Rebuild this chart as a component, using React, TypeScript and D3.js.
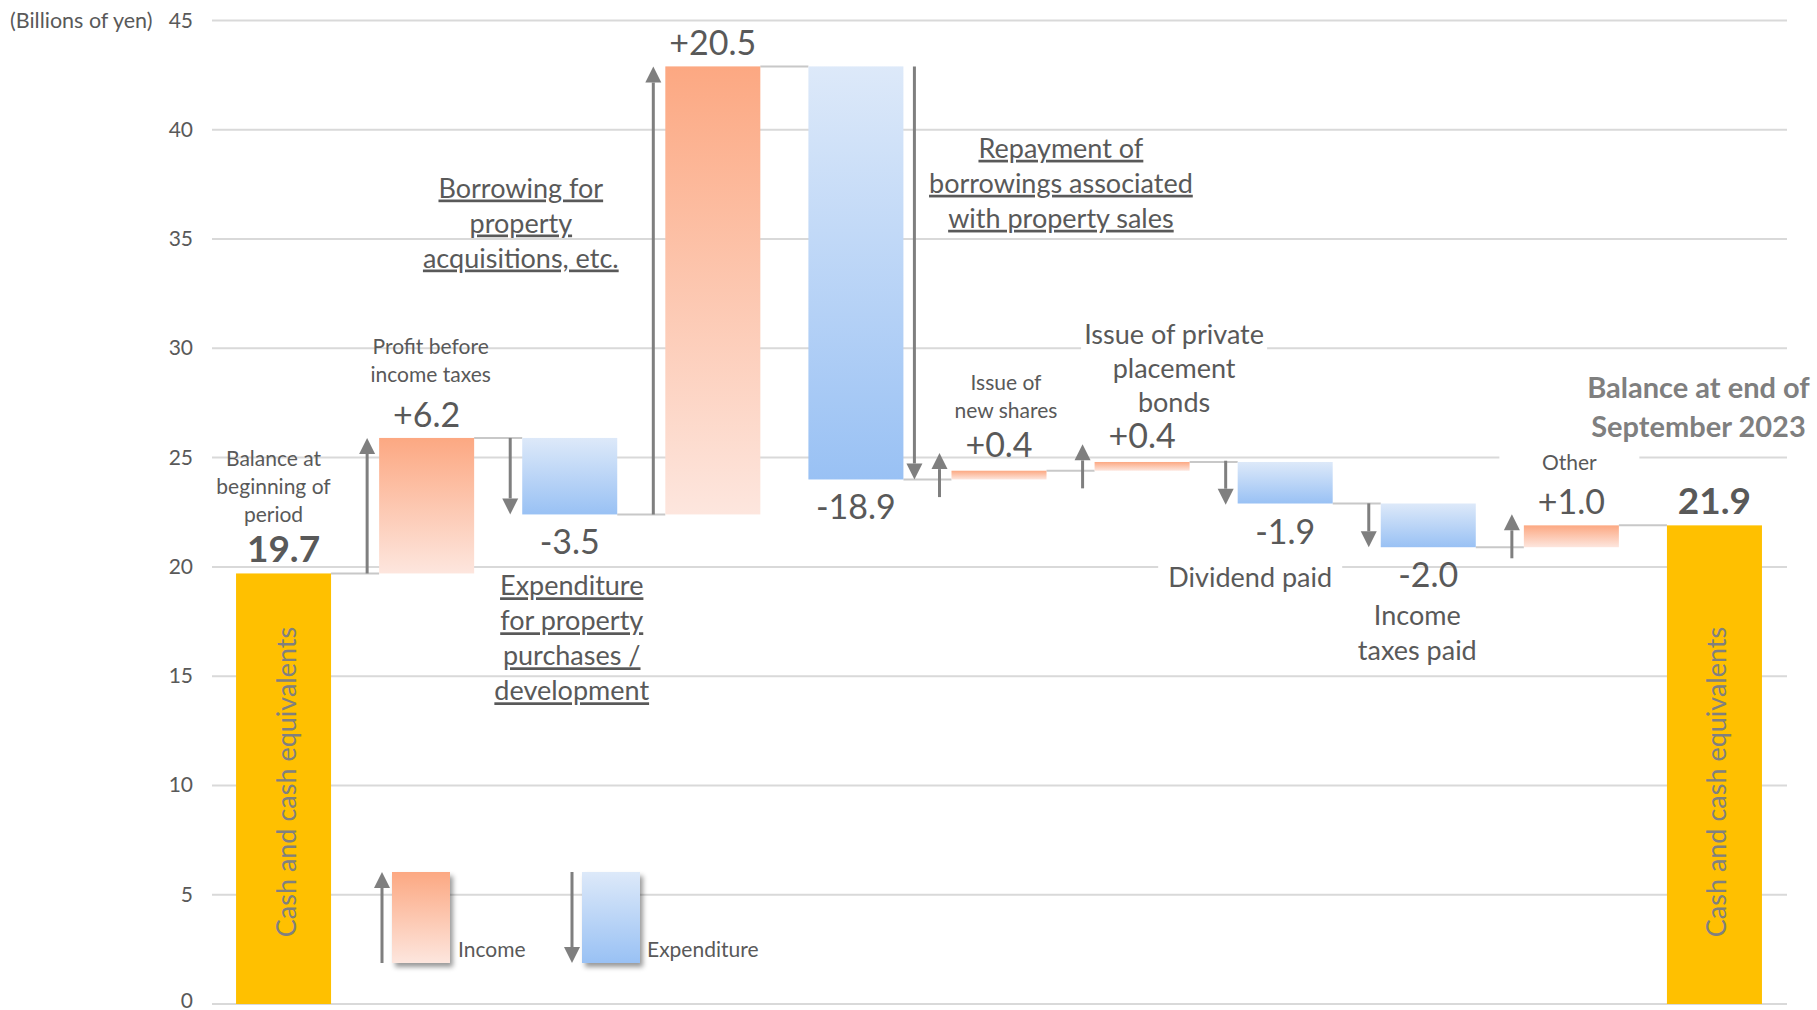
import * as d3 from "d3";

// cash flow items (billions of yen)
const categories = [
  "Balance at beginning of period",
  "Profit before income taxes",
  "Expenditure for property purchases / development",
  "Borrowing for property acquisitions, etc.",
  "Repayment of borrowings associated with property sales",
  "Issue of new shares",
  "Issue of private placement bonds",
  "Dividend paid",
  "Income taxes paid",
  "Other",
  "Balance at end of September 2023",
];
const changes = [19.7, 6.2, -3.5, 20.5, -18.9, 0.4, 0.4, -1.9, -2.0, 1.0, 21.9];
const kinds = ["total", "inc", "exp", "inc", "exp", "inc", "inc", "exp", "exp", "inc", "total"];
const yTicks = [0, 5, 10, 15, 20, 25, 30, 35, 40, 45];

const captionLines = [
  ["Balance at", "beginning of", "period"],
  ["Profit before", "income taxes"],
  ["Expenditure", "for property", "purchases /", "development"],
  ["Borrowing for", "property", "acquisitions, etc."],
  ["Repayment of", "borrowings associated", "with property sales"],
  ["Issue of", "new shares"],
  ["Issue of private", "placement", "bonds"],
  ["Dividend paid"],
  ["Income", "taxes paid"],
  ["Other"],
  ["Balance at end of", "September 2023"],
];

// caption placement: dx from bar centre, v = first baseline in data units
const captionLayout = [
  { dx: -10, v: 24.62, size: 21, lh: 28 },
  { dx: 4, v: 29.75, size: 21, lh: 28 },
  { dx: 2, v: 18.7, size: 27, lh: 35, ul: true },
  { dx: -192, v: 36.9, size: 27, lh: 35, ul: true },
  { dx: 205, v: 38.72, size: 27, lh: 35, ul: true },
  { dx: 7, v: 28.1, size: 21, lh: 28 },
  { dx: 32, v: 30.18, size: 27, lh: 34, bg: 186 },
  { dx: -35, v: 19.08, size: 27, lh: 35, bg: 184 },
  { dx: -11, v: 17.35, size: 27, lh: 35 },
  { dx: -2, v: 24.44, size: 21, lh: 28, bg: 140 },
  { dx: -16, v: 27.73, size: 29, lh: 39, bold: true, color: "#7f7f7f" },
];

const FONT = "Lato, 'Open Sans', sans-serif";
const TXT = "#595959";
const ARROW = "#7f7f7f";

const arrow = (ax: number, tail: number, tip: number, key: string) => {
  const dir = tip < tail ? -1 : 1;
  const hl = 16, hw = 8;
  const base = tip - dir * hl;
  return (
    <g key={key}>
      <line x1={ax} x2={ax} y1={tail} y2={base} stroke={ARROW} strokeWidth={3} />
      <path d={`M${ax - hw},${base}L${ax + hw},${base}L${ax},${tip}Z`} fill={ARROW} />
    </g>
  );
};

export default function App() {
  const x = d3.scaleBand<string>().domain(categories).range([212, 1786]).paddingInner(0.336).paddingOuter(0.168);
  const y = d3.scaleLinear().domain([0, 45]).range([1004, 20.5]);
  const bw = x.bandwidth();

  let run = 0;
  const steps = categories.map((c, i) => {
    const k = kinds[i];
    const start = k === "total" ? 0 : run;
    const end = k === "total" ? changes[i] : +(run + changes[i]).toFixed(1);
    run = end;
    return { c, k, start, end, v: changes[i], i };
  });

  return (
    <svg width={1817} height={1010} style={{ position: "absolute", left: 0, top: 0, background: "#fff" }} fontFamily={FONT}>
      <defs>
        <linearGradient id="inc" x1="0" y1="0" x2="0" y2="1">
          <stop offset="0" stopColor="#fca882" />
          <stop offset="1" stopColor="#fde6de" />
        </linearGradient>
        <linearGradient id="exp" x1="0" y1="0" x2="0" y2="1">
          <stop offset="0" stopColor="#dde9f9" />
          <stop offset="1" stopColor="#99c1f4" />
        </linearGradient>
        <filter id="shadow" x="-20%" y="-20%" width="150%" height="150%">
          <feDropShadow dx="3" dy="4" stdDeviation="2.5" floodColor="#000" floodOpacity="0.4" />
        </filter>
      </defs>

      {/* grid + y axis */}
      {yTicks.map((t) => (
        <g key={t}>
          <line x1={212} x2={1787} y1={y(t)} y2={y(t)} stroke="#d9d9d9" strokeWidth={2} />
          <text x={193} y={Math.min(y(t) + 7, 1008)} textAnchor="end" fontSize={21} fill={TXT}>{t}</text>
        </g>
      ))}
      <text x={10} y={y(45) + 7} fontSize={21.5} fill={TXT}>(Billions of yen)</text>

      {/* connectors */}
      {steps.slice(0, -1).map((s, i) => (
        <line key={"c" + i} x1={x(s.c)! + bw} x2={x(categories[i + 1])!} y1={y(s.end)} y2={y(s.end)} stroke="#c8c8c8" strokeWidth={2} />
      ))}

      {/* bars */}
      {steps.map((s) => {
        const top = y(Math.max(s.start, s.end));
        const bot = y(Math.min(s.start, s.end));
        const fill = s.k === "total" ? "#ffc000" : s.k === "inc" ? "url(#inc)" : "url(#exp)";
        return <rect key={"b" + s.i} x={x(s.c)} y={top} width={bw} height={bot - top} fill={fill} />;
      })}

      {/* arrows */}
      {steps.filter((s) => s.k !== "total").map((s) => {
        const ax = s.i === 4 ? x(s.c)! + bw + 11 : x(s.c)! - 12;
        let tail = y(s.start), tip = y(s.end);
        if (Math.abs(tip - tail) < 44) {
          const mid = (tip + tail) / 2, dir = tip < tail ? -1 : 1;
          tail = mid - dir * 22;
          tip = mid + dir * 22;
        }
        return arrow(ax, tail, tip, "a" + s.i);
      })}

      {/* cash text in total bars */}
      {steps.filter((s) => s.k === "total").map((s) => (
        <text key={"t" + s.i} transform={`translate(${x(s.c)! + bw / 2 + 12},782) rotate(-90)`} textAnchor="middle" fontSize={27} fill="#808080">
          Cash and cash equivalents
        </text>
      ))}

      {/* value labels */}
      {steps.map((s) => {
        const cx = x(s.c)! + bw / 2;
        const small = Math.abs(y(s.start) - y(s.end)) < 15;
        const ty = s.k === "exp" ? y(s.end) + 40 : y(s.end) - (small && s.k === "inc" ? 14 : 11);
        const txt = s.k === "total" ? s.v.toFixed(1) : s.k === "inc" ? "+" + s.v.toFixed(1) : s.v.toFixed(1);
        return (
          <text key={"v" + s.i} x={cx} y={ty} textAnchor="middle" fontSize={s.k === "total" ? 37 : 34} fontWeight={s.k === "total" ? 700 : 400} fill={TXT}>
            {txt}
          </text>
        );
      })}

      {/* captions */}
      {steps.map((s) => {
        const L = captionLayout[s.i] as any;
        const cx = x(s.c)! + bw / 2 + L.dx;
        const y0 = y(L.v);
        const lines = captionLines[s.i];
        return (
          <g key={"cap" + s.i}>
            {L.bg && (
              <rect x={cx - L.bg / 2} y={y0 - L.size * 0.95} width={L.bg} height={(lines.length - 1) * L.lh + L.size * 1.25} fill="#fff" />
            )}
            {lines.map((ln, j) => (
              <text key={j} x={cx} y={y0 + j * L.lh} textAnchor="middle" fontSize={L.size} fontWeight={L.bold ? 700 : 400}
                fill={L.color || TXT} style={L.ul ? { textDecoration: "underline" } : undefined}>
                {ln}
              </text>
            ))}
          </g>
        );
      })}

      {/* legend */}
      <rect x={392} y={872} width={58} height={91} fill="url(#inc)" filter="url(#shadow)" />
      {arrow(382, 963, 872, "li")}
      <text x={458} y={957} fontSize={21} fill={TXT}>Income</text>
      <rect x={582} y={872} width={58} height={91} fill="url(#exp)" filter="url(#shadow)" />
      {arrow(572, 872, 963, "le")}
      <text x={647} y={957} fontSize={21} fill={TXT}>Expenditure</text>
    </svg>
  );
}
